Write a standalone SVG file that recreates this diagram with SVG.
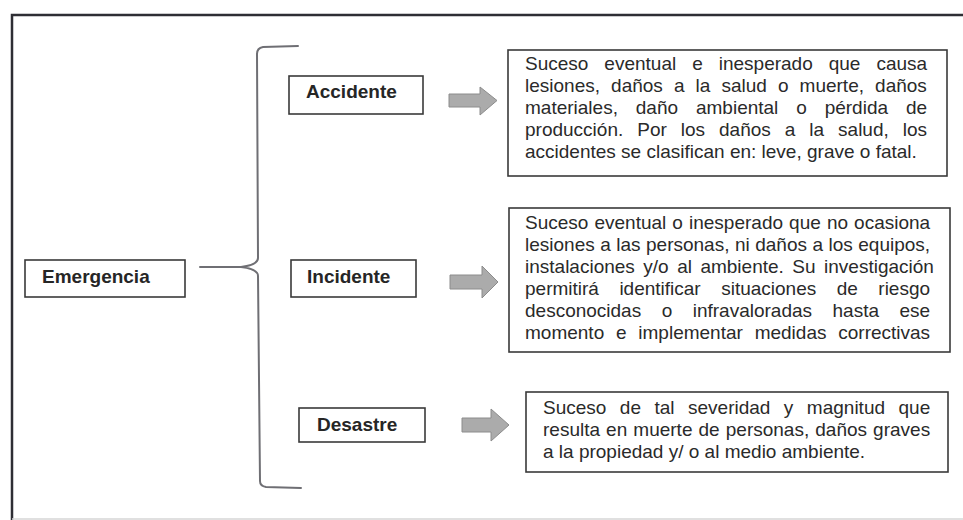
<svg xmlns="http://www.w3.org/2000/svg" width="963" height="520" viewBox="0 0 963 520">
  <style>
    .frame { fill: none; stroke: #2e2e34; stroke-width: 2.5; }
    .box { fill: #ffffff; stroke: #3a3a3a; stroke-width: 1.6; }
    .label { font-family: "Liberation Sans", Arial, sans-serif; font-size: 19px; font-weight: bold; fill: #262626; }
    .desc { font-family: "Liberation Sans", Arial, sans-serif; font-size: 19px; fill: #2a2a2a; }
    .brace { fill: none; stroke: #6f6f74; stroke-width: 2; stroke-linecap: round; stroke-linejoin: round; }
    .arrow { fill: #ababab; stroke: #8c8c8c; stroke-width: 1; }
  </style>
  <rect x="0" y="0" width="963" height="520" fill="#ffffff"/>
  <g id="frame">
    <path class="frame" d="M 12 520 L 12 15 L 963 15"/>
    <line x1="12" y1="519" x2="963" y2="519" stroke="#d6d6d6" stroke-width="1.5"/>
  </g>
  <g id="connectors">
    <path class="brace" d="M 298 46 L 263 47 Q 257 48 257 54 L 258 258 Q 258 265 241 267 Q 258 269 258 276 L 260 481 Q 260 486 266 487 L 301 488"/>
    <line class="brace" x1="200" y1="267" x2="241" y2="267"/>
    <path class="arrow" d="M 449 94 L 480 94 L 480 87 L 497 100.5 L 480 115 L 480 107 L 449 107 Z"/>
    <path class="arrow" d="M 450 275 L 482 275 L 482 266 L 498 282 L 482 298 L 482 289 L 450 289 Z"/>
    <path class="arrow" d="M 462 418 L 491 418 L 491 409 L 509 425 L 491 441 L 491 432 L 462 432 Z"/>
  </g>
  <g id="emergencia">
    <rect class="box" x="25" y="260" width="160" height="37"/>
    <text class="label" x="42" y="283">Emergencia</text>
  </g>
  <g id="accidente">
    <rect class="box" x="289" y="76" width="134" height="38"/>
    <text class="label" x="306" y="98">Accidente</text>
  </g>
  <g id="incidente">
    <rect class="box" x="291" y="260" width="125" height="37"/>
    <text class="label" x="307" y="283">Incidente</text>
  </g>
  <g id="desastre">
    <rect class="box" x="299" y="408" width="126" height="34"/>
    <text class="label" x="317" y="431">Desastre</text>
  </g>
  <g id="def-accidente">
    <rect class="box" x="508" y="50" width="439" height="126"/>
    <text class="desc" x="525" y="70" word-spacing="10.7">Suceso eventual e inesperado que causa</text>
    <text class="desc" x="525" y="92" word-spacing="5.8">lesiones, daños a la salud o muerte, daños</text>
    <text class="desc" x="525" y="114" word-spacing="12.6">materiales, daño ambiental o pérdida de</text>
    <text class="desc" x="525" y="136" word-spacing="8.7">producción. Por los daños a la salud, los</text>
    <text class="desc" x="525" y="158">accidentes se clasifican en: leve, grave o fatal.</text>
  </g>
  <g id="def-incidente">
    <rect class="box" x="509" y="208" width="441" height="144"/>
    <text class="desc" x="525" y="229" word-spacing="0.8">Suceso eventual o inesperado que no ocasiona</text>
    <text class="desc" x="525" y="251" word-spacing="0.2">lesiones a las personas, ni daños a los equipos,</text>
    <text class="desc" x="525" y="273" word-spacing="3.2">instalaciones y/o al ambiente. Su investigación</text>
    <text class="desc" x="525" y="295" word-spacing="15.2">permitirá identificar situaciones de riesgo</text>
    <text class="desc" x="525" y="317" word-spacing="15.2">desconocidas o infravaloradas hasta ese</text>
    <text class="desc" x="525" y="339" word-spacing="6.5">momento e implementar medidas correctivas</text>
  </g>
  <g id="def-desastre">
    <rect class="box" x="526" y="392" width="422" height="80"/>
    <text class="desc" x="543" y="414" word-spacing="8.2">Suceso de tal severidad y magnitud que</text>
    <text class="desc" x="543" y="436" word-spacing="0.8">resulta en muerte de personas, daños graves</text>
    <text class="desc" x="543" y="458">a la propiedad y/ o al medio ambiente.</text>
  </g>
</svg>
